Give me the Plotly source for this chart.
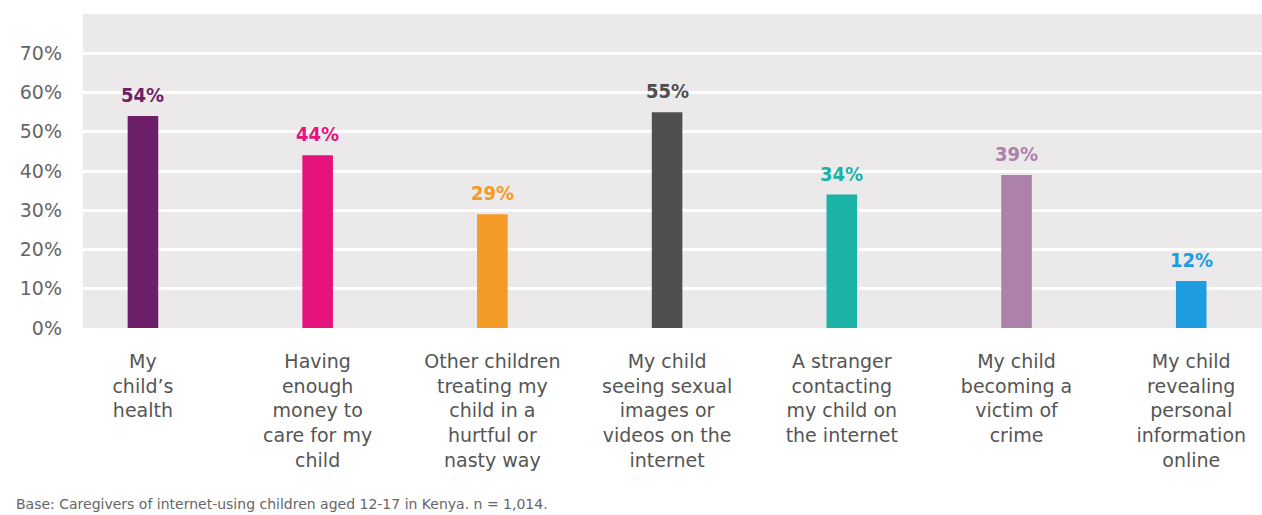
import plotly.graph_objects as go

categories = [
    "My<br>child’s<br>health",
    "Having<br>enough<br>money to<br>care for my<br>child",
    "Other children<br>treating my<br>child in a<br>hurtful or<br>nasty way",
    "My child<br>seeing sexual<br>images or<br>videos on the<br>internet",
    "A stranger<br>contacting<br>my child on<br>the internet",
    "My child<br>becoming a<br>victim of<br>crime",
    "My child<br>revealing<br>personal<br>information<br>online",
]
values = [54, 44, 29, 55, 34, 39, 12]
colors = ["#6e1f6a", "#e5137b", "#f39a27", "#4f4f4f", "#1ab3a5", "#ac82ab", "#1d9de0"]
y_ticks = [0, 10, 20, 30, 40, 50, 60, 70]
y_tick_labels = ["0%", "10%", "20%", "30%", "40%", "50%", "60%", "70%"]
footnote = "Base: Caregivers of internet-using children aged 12-17 in Kenya. n = 1,014."

x_pos = list(range(len(categories)))

fig = go.Figure()
fig.add_trace(go.Bar(
    x=x_pos,
    y=values,
    marker=dict(color=colors, line=dict(width=0)),
    width=0.175,
    hoverinfo="skip",
))

# value labels above each bar, coloured like the bar
annotations = [
    dict(
        x=xi, y=v, xref="x", yref="y",
        text=f"<b>{v}%</b>",
        xanchor="center", yanchor="bottom", yshift=7,
        showarrow=False,
        font=dict(family="DejaVu Sans Condensed, DejaVu Sans", size=20, color=c),
    )
    for xi, v, c in zip(x_pos, values, colors)
]
annotations.append(dict(
    text=footnote,
    xref="paper", yref="paper",
    x=(14 - 83) / 1179, y=-(504 - 328) / 314,
    xanchor="left", yanchor="middle",
    showarrow=False,
    font=dict(family="DejaVu Sans", size=14, color="#666666"),
))

fig.update_layout(
    width=1262, height=515,
    margin=dict(l=83, r=0, t=14, b=187),
    paper_bgcolor="white",
    plot_bgcolor="#ebe9ea",
    showlegend=False,
    xaxis=dict(
        tickmode="array",
        tickvals=x_pos,
        ticktext=categories,
        range=[-0.343, 6.405],
        showgrid=False,
        zeroline=False,
        ticks="",
        ticklabelstandoff=20,
        tickfont=dict(family="DejaVu Sans", size=19, color="#555555"),
    ),
    yaxis=dict(
        tickmode="array",
        tickvals=y_ticks,
        ticktext=y_tick_labels,
        range=[0, 80],
        showgrid=True,
        gridcolor="white",
        gridwidth=3,
        zeroline=False,
        ticks="",
        ticklabelstandoff=20,
        tickfont=dict(family="DejaVu Sans", size=19, color="#666666"),
    ),
    annotations=annotations,
)

fig.write_html("out.html")
